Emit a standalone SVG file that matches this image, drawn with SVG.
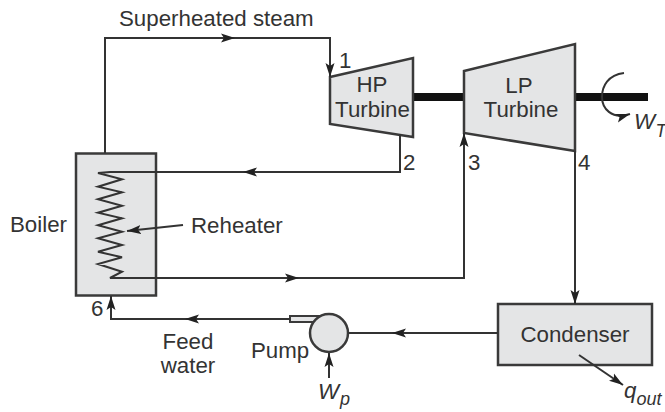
<svg xmlns="http://www.w3.org/2000/svg" width="665" height="412" viewBox="0 0 665 412">
<defs>
<marker id="a" markerUnits="userSpaceOnUse" markerWidth="15" markerHeight="10" refX="14" refY="5" orient="auto"><path d="M0 0.500L14 5L0 9.500L3 5Z" fill="#222"/></marker>
</defs>
<style>
text{font-family:"Liberation Sans",Arial,sans-serif;font-size:22.300px;fill:#333}
.i{font-style:italic}
.s{font-style:italic;font-size:18px}
.c{fill:none;stroke:#333;stroke-width:2}
.n{fill:#e4e5e6;stroke:#3a3a3a;stroke-width:2.500}
</style>
<rect width="665" height="412" fill="#fff"/>
<g id="shaft"><rect x="413" y="93" width="51" height="8" fill="#111"/><rect x="575" y="93" width="73" height="8" fill="#111"/></g>
<g id="hp-turbine"><path class="n" d="M330 77L413 58V137L330 124Z"/><text x="372" y="92" text-anchor="middle">HP</text><text x="372.500" y="117" text-anchor="middle">Turbine</text></g>
<g id="lp-turbine"><path class="n" d="M464 71L575 44V151L464 133Z"/><text x="519" y="93" text-anchor="middle">LP</text><text x="521" y="117" text-anchor="middle">Turbine</text></g>
<g id="boiler"><rect class="n" x="76" y="153.500" width="80" height="142"/><text x="10" y="232">Boiler</text></g>
<g id="condenser"><rect class="n" x="498" y="304" width="154" height="61"/><text x="575" y="342" text-anchor="middle">Condenser</text></g>
<g id="pump"><rect x="290" y="316" width="32" height="6" fill="#e4e5e6" stroke="#3a3a3a" stroke-width="2"/><circle class="n" cx="329" cy="333" r="19"/><text x="251" y="358">Pump</text></g>
<g id="connectors">
<path class="c" d="M105 153V38H330V77"/>
<path class="c" d="M330 38V77" marker-end="url(#a)"/>
<path class="c" d="M105 38H235" marker-end="url(#a)"/>
<path class="c" d="M400 134V172H110L98 173L122 179.300L98 186.700L122 192.300L98 199.300L122 205.700L98 212.700L122 218.300L98 225.300L122 231.700L98 238.300L122 245L98 251.700L122 257.300L98 264L122 271.700L110 278H464V133"/>
<path class="c" d="M400 172H243" marker-end="url(#a)"/>
<path class="c" d="M110 278H299" marker-end="url(#a)"/>
<path class="c" d="M464 178V133" marker-end="url(#a)"/>
<path class="c" d="M575 151V304" marker-end="url(#a)"/>
<path class="c" d="M498 333H348"/>
<path class="c" d="M498 333H392" marker-end="url(#a)"/>
<path class="c" d="M290 319H111V296"/>
<path class="c" d="M290 319H185" marker-end="url(#a)"/>
<path class="c" d="M111 319V296" marker-end="url(#a)"/>
<path class="c" d="M183 225L127 231" marker-end="url(#a)"/>
<path class="c" d="M329 378V353" marker-end="url(#a)"/>
<path class="c" d="M579 355L623 385" marker-end="url(#a)"/>
<path class="c" d="M624 73C608 75 602 86 602 97C602 108 611 120 630 114" marker-end="url(#a)"/>
</g>
<g id="labels">
<text x="119" y="26">Superheated steam</text>
<text x="339" y="68">1</text><text x="403" y="170">2</text><text x="468" y="170">3</text><text x="578" y="170">4</text><text x="91" y="316">6</text>
<text x="191" y="233">Reheater</text>
<text x="188" y="349" text-anchor="middle">Feed</text><text x="188" y="373" text-anchor="middle">water</text>
<text class="i" x="634" y="129">W</text><text class="s" x="655.500" y="137">T</text>
<text class="i" x="318" y="399">W</text><text class="s" x="340" y="405">p</text>
<text class="i" x="624" y="398">q</text><text class="s" x="636.500" y="405">out</text>
</g>
</svg>
